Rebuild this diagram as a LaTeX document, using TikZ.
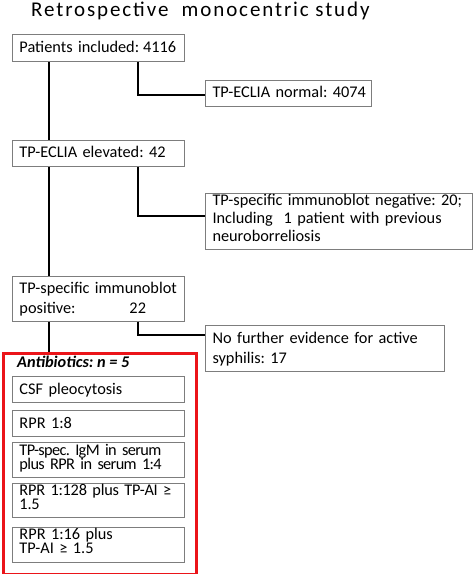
\documentclass[tikz,border=0pt]{standalone}
\usepackage{fontspec}
\setmainfont{Carlito}
\definecolor{boxgray}{RGB}{125,125,125}
\definecolor{redframe}{RGB}{235,20,25}
\begin{document}
\frenchspacing
\begin{tikzpicture}[x=1pt,y=-1pt,
  box/.style={draw=boxgray, line width=1pt, anchor=north west, inner xsep=7pt, inner ysep=0pt, align=left},
  conn/.style={line width=2pt, black},
  lead/.style={font={\fontsize{16.3}{#1}\selectfont\frenchspacing\lineskiplimit=-100pt}},
  tight/.style={execute at begin node={\addfontfeature{LetterSpace=#1}}}]
\useasboundingbox (0,0) rectangle (474,574);
% title
\node[anchor=base west, inner sep=0pt, font={\fontsize{21}{25}\selectfont\addfontfeature{LetterSpace=9}}] (title) at (31,16.7) {Retrospective\ \ monocentric study};
% main boxes
\node[box, lead=19, text width=158pt, text height=18pt, text depth=9pt] (b1) at (12,34) {\mbox{Patients included:\hspace{-1.5pt} 4116}};
\node[box, lead=19, text width=152pt, text height=17pt, text depth=9pt] (b2) at (205,80) {\mbox{TP-ECLIA normal: 4074}};
\node[box, lead=19, text width=158pt, text height=17pt, text depth=9pt] (b3) at (12,140) {\mbox{TP-ECLIA elevated: 42}};
\node[box, lead=17.8, text width=253pt, text height=12.5pt, text depth=43.5pt] (b4) at (205,192.5) {\mbox{TP-specific immunoblot negative: 20;}\\\mbox{Including\ \ 1 patient with previous}\\\mbox{neuroborreliosis}};
\node[box, lead=20.5, text width=158pt, text height=17pt, text depth=28pt] (b5) at (12,275.7) {\mbox{TP-specific immunoblot}\\\makebox[110pt][l]{positive:}22};
\node[box, lead=20, text width=225pt, text height=18pt, text depth=28pt] (b6) at (205,325) {\mbox{No further evidence for active}\\\mbox{syphilis: 17}};
% red frame
\node[draw=redframe, line width=3pt, anchor=north west, inner sep=0pt, minimum width=192.5pt, minimum height=220.5pt] (rb) at (2,352) {};
\node[anchor=base west, inner sep=0pt, font={\fontsize{16.3}{19}\selectfont\bfseries\itshape\frenchspacing}] (ab) at (17,367.3) {Antibiotics: n = 5};
% inner boxes
\node[box, lead=19, text width=158pt, text height=18pt, text depth=8pt] (c1) at (12,376) {\mbox{CSF pleocytosis}};
\node[box, lead=19, text width=158pt, text height=18pt, text depth=8pt] (c2) at (12,410) {\mbox{RPR 1:8}};
\node[box, lead=14, tight=-4, text width=158pt, text height=12.6pt, text depth=21.8pt] (c3) at (12,442.3) {\mbox{TP-spec. IgM in serum}\\\mbox{plus RPR in serum 1:4}};
\node[box, lead=14, tight=-1.5, text width=158pt, text height=12pt, text depth=22.6pt] (c4) at (12,482.7) {\mbox{RPR 1:128 plus TP-AI ≥}\\\mbox{1.5}};
\node[box, lead=14, text width=158pt, text height=12pt, text depth=23pt] (c5) at (12,526.7) {\mbox{RPR 1:16 plus}\\\mbox{TP-AI ≥ 1.5}};
% connectors
\draw[conn] ([xshift=37pt]b1.south west) -- ([xshift=37pt]b3.north west);
\draw[conn] ([xshift=37pt]b3.south west) -- ([xshift=37pt]b5.north west);
\draw[conn] ([xshift=37pt]b5.south west) -- ([xshift=37pt]b5.south west |- rb.north);
\draw[conn] ([xshift=125.7pt]b1.south west) |- ([yshift=-15pt]b2.north west);
\draw[conn] ([xshift=125.7pt]b3.south west) |- ([yshift=-23.5pt]b4.north west);
\draw[conn] ([xshift=125.7pt]b5.south west) |- ([yshift=-9.5pt]b6.north west);
\end{tikzpicture}
\end{document}
